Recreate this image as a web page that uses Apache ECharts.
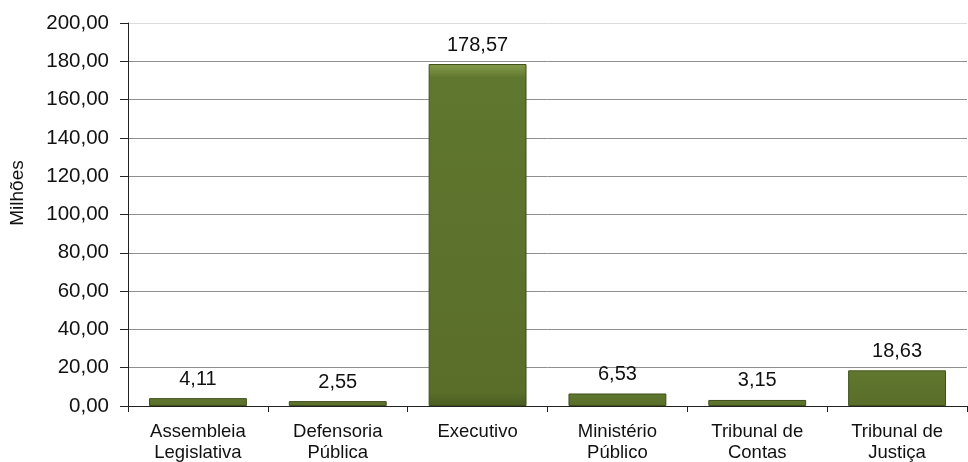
<!DOCTYPE html>
<html><head><meta charset="utf-8">
<script src="https://cdn.jsdelivr.net/npm/echarts@6/dist/echarts.min.js"></script>
<style>html,body{margin:0;padding:0;background:#fff}#c{width:968px;height:462px}</style>
</head><body><div id="c"></div>
<script>
const categories = ["Assembleia\nLegislativa", "Defensoria\nPública", "Executivo", "Ministério\nPúblico", "Tribunal de\nContas", "Tribunal de\nJustiça"];
const values = [4.11, 2.55, 178.57, 6.53, 3.15, 18.63];
const yTitle = "Milhões";

const fmt = v => v.toFixed(2).replace('.', ',');
const FF = 'Liberation Sans, Arial, sans-serif';
const gridColors = ['#8f8f8f','#8f8f8f','#8f8f8f','#8f8f8f','#8f8f8f','#8f8f8f','#8f8f8f','#8f8f8f','#8f8f8f','#8f8f8f','#dcdcdc'];
const chart = echarts.init(document.getElementById('c'));
chart.setOption({
  animation: false,
  textStyle: { fontFamily: FF },
  grid: { left: 128, right: 1, top: 23, bottom: 56, outerBoundsMode: 'none', containLabel: false },
  graphic: [{
    type: 'text', x: 18, y: 193, rotation: Math.PI / 2,
    style: { text: yTitle, fill: '#111', font: '19px ' + FF, align: 'center', verticalAlign: 'middle' }
  }],
  xAxis: {
    type: 'category', data: categories,
    axisLine: { lineStyle: { color: '#222', width: 1 } },
    axisTick: { show: true, length: 6, lineStyle: { color: '#222' } },
    axisLabel: { color: '#111', fontSize: 18.5, lineHeight: 21, margin: 15, interval: 0 }
  },
  yAxis: {
    type: 'value', min: 0, max: 200, interval: 20,
    axisLine: { show: true, lineStyle: { color: '#222' } },
    axisTick: { show: true, length: 8, inside: false, lineStyle: { color: '#222' } },
    axisLabel: { color: '#111', fontSize: 20.5, margin: 19, formatter: v => fmt(v) },
    splitLine: { lineStyle: { color: gridColors, width: 1 } }
  },
  series: [{
    type: 'bar', data: values, barWidth: '70%',
    itemStyle: {
      color: new echarts.graphic.LinearGradient(0, 0, 0, 1, [
        { offset: 0, color: '#869c4c' },
        { offset: 0.04, color: '#60772f' },
        { offset: 0.96, color: '#5a6e2a' },
        { offset: 1, color: '#4a5c20' }
      ]),
      borderColor: '#3f4f1b', borderWidth: 1
    },
    label: { show: true, position: 'top', distance: 9, color: '#111', fontSize: 20, formatter: p => fmt(p.value) }
  }]
});
</script></body></html>
